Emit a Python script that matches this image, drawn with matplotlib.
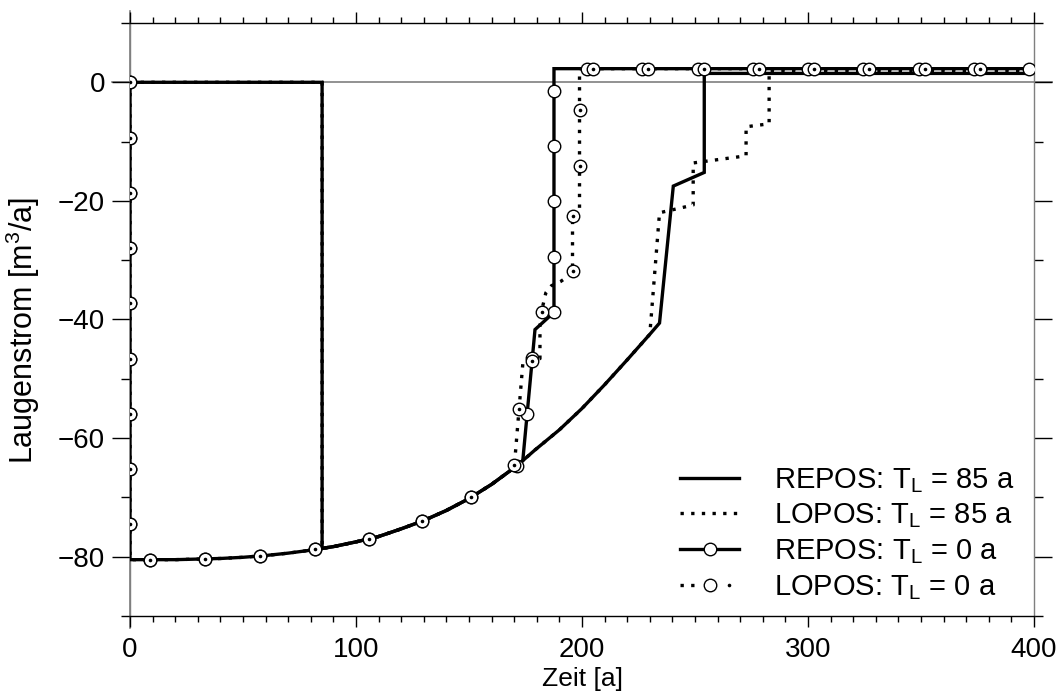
import numpy as np
import matplotlib
matplotlib.use("Agg")
import matplotlib.pyplot as plt
from matplotlib.lines import Line2D
from matplotlib.legend_handler import HandlerTuple
from matplotlib.ticker import MultipleLocator

plt.rcParams["font.family"] = ["Liberation Sans", "DejaVu Sans"]
plt.rcParams["mathtext.fontset"] = "custom"
plt.rcParams["mathtext.rm"] = "Liberation Sans"
plt.rcParams["mathtext.it"] = "Liberation Sans:italic"

# Shared lower branch of all curves (time in a, brine flow in m^3/a)
base_t = [0, 10, 20, 30, 40, 50, 60, 70, 80, 85, 90, 100, 110, 120, 130, 140,
          150, 160, 170, 173.8, 179.2, 190, 200, 210, 220, 230, 234.3, 240.4]
base_q = [-80.5, -80.5, -80.5, -80.4, -80.3, -80.1, -79.8, -79.4, -78.9, -78.6,
          -78.3, -77.5, -76.6, -75.3, -73.9, -72.2, -70.2, -67.8, -65.0, -63.8,
          -62.0, -58.6, -55.0, -51.0, -46.8, -42.5, -40.6, -38.0]

# Start segments
start85_t = [0, 85]
start85_q = [0, 0]
start0_t = [0, 0]
start0_q = [0, -80.5]

# Upper branches after leaving the lower curve
repos85_t = [240.4, 254.1, 254.1, 400]
repos85_q = [-17.5, -15.2, 1.5, 1.5]
lopos85_t = [234.3, 249.2, 249.2, 272.6, 272.6, 282.8, 282.8, 400]
lopos85_q = [-22.0, -20.7, -13.6, -12.4, -7.5, -7.0, 2.0, 2.0]
repos0_t = [179.2, 187.6, 187.6, 400]
repos0_q = [-41.7, -38.8, 2.3, 2.3]
lopos0_t = [173.8, 181.4, 181.4, 182.6, 184.0, 186.5, 190.5, 195.8, 195.8,
            198.9, 198.9, 400]
lopos0_q = [-47.5, -46.6, -41.0, -37.8, -35.5, -34.3, -33.6, -32.2, -22.6,
            -22.2, 2.3, 2.3]

labels = ["REPOS: T$_\\mathrm{L}$ = 85 a", "LOPOS: T$_\\mathrm{L}$ = 85 a",
          "REPOS: T$_\\mathrm{L}$ = 0 a", "LOPOS: T$_\\mathrm{L}$ = 0 a"]


def build(start_t, start_q, t_from, t_to, end_t, end_q):
    bt = np.array(base_t)
    bq = np.array(base_q)
    m = (bt > t_from) & (bt < t_to)
    t = np.concatenate([start_t, bt[m], end_t])
    q = np.concatenate([start_q, bq[m], end_q])
    return t, q


def marker_positions(ax, t, q, step_px):
    """Points at equal on-screen distances along a polyline."""
    pts = ax.transData.transform(np.column_stack([t, q]))
    seg = np.hypot(*np.diff(pts, axis=0).T)
    keep = np.concatenate([[True], seg > 1e-9])
    pts = pts[keep]
    seg = seg[seg > 1e-9]
    cum = np.concatenate([[0.0], np.cumsum(seg)])
    d = np.arange(0.0, cum[-1] + 1e-6, step_px)
    px = np.interp(d, cum, pts[:, 0])
    py = np.interp(d, cum, pts[:, 1])
    out = ax.transData.inverted().transform(np.column_stack([px, py]))
    return out[:, 0], out[:, 1]


fig = plt.figure(figsize=(10.64, 6.97), dpi=100)
ax = fig.add_axes([130 / 1064, 1 - 616 / 697, 904 / 1064, 593 / 697])
ax.set_xlim(0, 400)
ax.set_ylim(-90, 10)

grey = "#7f7f7f"
ax.axhline(0, xmin=-0.02, xmax=1.02, color=grey, lw=1.2, clip_on=False, zorder=1)
ax.axvline(0, ymin=-0.02, ymax=1.02, color=grey, lw=1.2, clip_on=False, zorder=1)

lw = 2.4
dot = (0, (1, 2.2))

r85 = build(start85_t, start85_q, 84.9, 240.4, repos85_t, repos85_q)
l85 = build(start85_t, start85_q, 84.9, 234.3, lopos85_t, lopos85_q)
r0 = build(start0_t, start0_q, -1, 179.2, repos0_t, repos0_q)
l0 = build(start0_t, start0_q, -1, 173.8, lopos0_t, lopos0_q)

ax.plot(*r85, color="k", lw=lw, zorder=3, solid_joinstyle="miter")
ax.plot(*l85, color="k", lw=lw, ls=dot, zorder=3)
ax.plot(*r0, color="k", lw=lw, zorder=3, solid_joinstyle="miter")
ax.plot(*l0, color="k", lw=lw, ls=dot, zorder=3)

step = 55.25
mr = marker_positions(ax, *r0, step)
ml = marker_positions(ax, *l0, step)
ax.plot(*mr, ls="none", marker="o", ms=9, mfc="white", mec="k", mew=1.0, zorder=4)
ax.plot(*ml, ls="none", marker="o", ms=9, mfc="white", mec="k", mew=1.0, zorder=4)
ax.plot(*ml, ls="none", marker="o", ms=2.6, mfc="k", mec="k", mew=0, zorder=5)

# axes styling
for side in ["left", "right"]:
    ax.spines[side].set_color(grey)
for side in ["top", "bottom"]:
    ax.spines[side].set_color("k")
for sp in ax.spines.values():
    sp.set_linewidth(1.0)

ax.xaxis.set_major_locator(MultipleLocator(100))
ax.xaxis.set_minor_locator(MultipleLocator(10))
ax.yaxis.set_major_locator(MultipleLocator(20))
ax.yaxis.set_minor_locator(MultipleLocator(10))
ax.tick_params(axis="x", which="both", direction="out", top=True, bottom=True,
               labelsize=20, width=1.0, pad=6.6)
ax.tick_params(axis="x", which="major", length=11.5 / 1.389)
ax.tick_params(axis="x", which="minor", length=6 / 1.389)
ax.tick_params(axis="y", which="both", direction="out", left=True, right=True,
               labelsize=20, width=1.0, pad=5)
ax.tick_params(axis="y", which="major", length=18 / 1.389)
ax.tick_params(axis="y", which="minor", length=9 / 1.389)

ax.set_xlabel("Zeit [a]", fontsize=19)
ax.set_ylabel("Laugenstrom [m$^3$/a]", fontsize=22)
ax.xaxis.set_label_coords(0.5, -0.086)
ax.yaxis.set_label_coords(-0.097, 0.482)

# legend
h1 = Line2D([], [], color="k", lw=lw)
h2 = Line2D([], [], color="k", lw=lw, ls=dot)
h3 = Line2D([], [], color="k", lw=lw, marker="o", ms=9, mfc="white", mec="k", mew=1.0)
h4a = Line2D([], [], color="k", lw=lw, ls=dot)
h4b = Line2D([], [], ls="none", marker="o", ms=9, mfc="white", mec="k", mew=1.0)
h4c = Line2D([], [], ls="none", marker="o", ms=2.6, mfc="k", mec="k", mew=0)
leg = ax.legend([h1, h2, h3, (h4a, h4b, h4c)], labels, loc="lower right",
                bbox_to_anchor=(1014 / 1064, 1 - 602 / 697),
                bbox_transform=fig.transFigure, frameon=False, fontsize=21,
                handlelength=2.0, handletextpad=1.2, labelspacing=0.24,
                borderpad=0, borderaxespad=0,
                handler_map={tuple: HandlerTuple(ndivide=None)})

fig.savefig("out.png", dpi=100)
